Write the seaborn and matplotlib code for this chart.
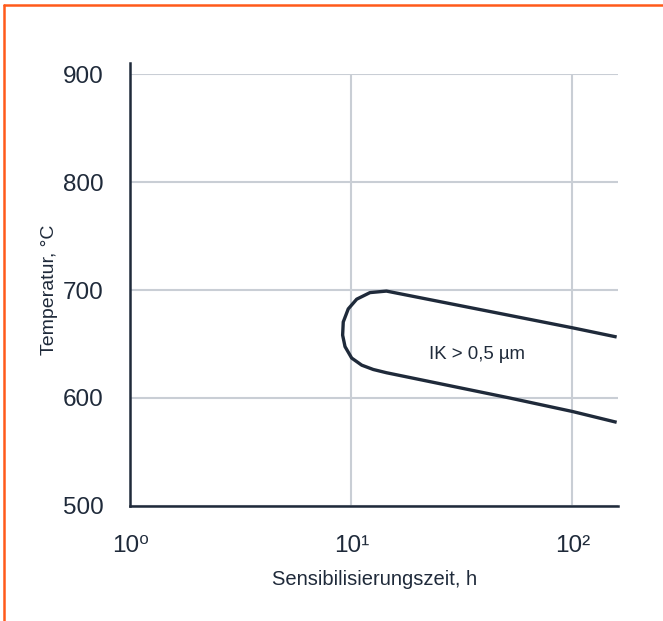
import pandas as pd
import seaborn as sns
import matplotlib.pyplot as plt
from matplotlib.lines import Line2D
from matplotlib.ticker import NullLocator

# =========================
# Data
# =========================
# C-shaped boundary: upper branch (right -> left), arc, lower branch (left -> right)
zeit_h = [158.5, 100, 14.4, 12.13, 10.56, 9.67, 9.18, 9.12, 9.35, 10.02, 11.13, 12.55,
          14.4, 52, 100, 158.5]
temperatur_c = [656.5, 665, 699, 697.6, 691.5, 682.5, 670.4, 658.2, 647.6, 637, 630.4,
                626.4, 623.4, 600, 587.5, 577.5]

x_ticks = [1, 10, 100]
x_tick_labels = ["10⁰", "10¹", "10²"]
y_ticks = [500, 600, 700, 800, 900]

label_text = "IK > 0,5 µm"
label_pos = (36.9, 640.6)

DARK = "#1f2a3a"
GRID = "#c9ced5"
ORANGE = "#ff5a1a"


def main():
    sns.set_style("white")
    plt.rcParams["font.family"] = ["Liberation Sans", "DejaVu Sans"]

    df = pd.DataFrame({"zeit": zeit_h, "temp": temperatur_c})

    fig = plt.figure(figsize=(6.63, 6.21), dpi=100)
    ax = fig.add_axes([0.1968, 0.1852, 0.7353, 0.6956])

    sns.lineplot(data=df, x="zeit", y="temp", sort=False, estimator=None,
                 color=DARK, linewidth=2.4, ax=ax, zorder=3,
                 solid_joinstyle="round", solid_capstyle="butt")

    ax.set_xscale("log")
    ax.set_xlim(1, 160.7)
    ax.set_ylim(500, 900)
    ax.set_xticks(x_ticks)
    ax.set_xticklabels(x_tick_labels)
    ax.xaxis.set_minor_locator(NullLocator())
    ax.set_yticks(y_ticks)

    ax.grid(True, color=GRID, linewidth=1.5, zorder=0)
    ax.set_axisbelow(True)

    for side in ["top", "right"]:
        ax.spines[side].set_visible(False)
    for side in ["left", "bottom"]:
        ax.spines[side].set_color(DARK)
        ax.spines[side].set_linewidth(1.8)
    # y spine runs a little above the 900 line
    ax.spines["left"].set_bounds(500, 910.5)

    ax.tick_params(axis="y", direction="out", length=11.2, width=1.5, color=GRID,
                   pad=8.4, labelsize=17.5, labelcolor=DARK)
    ax.tick_params(axis="x", direction="out", length=10, width=1.5, color=GRID,
                   pad=11, labelsize=17.5, labelcolor=DARK)

    # first y tick continues the bottom spine, first x tick sits on the y spine
    yt0 = ax.yaxis.get_major_ticks()[0]
    yt0.tick1line.set_color(DARK)
    yt0.tick1line.set_markeredgewidth(1.8)
    ax.xaxis.get_major_ticks()[0].tick1line.set_visible(False)

    ax.set_xlabel("Sensibilisierungszeit, h", fontsize=14.5, color=DARK, labelpad=9)
    ax.set_ylabel("Temperatur, °C", fontsize=14, color=DARK, labelpad=3.5)

    ax.text(label_pos[0], label_pos[1], label_text, fontsize=13.4, color=DARK,
            ha="center", va="center", zorder=4)

    # orange frame (top and left edge)
    fig.add_artist(Line2D([0.0055, 1.0], [0.992, 0.992], transform=fig.transFigure,
                          color=ORANGE, linewidth=1.8))
    fig.add_artist(Line2D([0.0055, 0.0055], [0.0, 0.992], transform=fig.transFigure,
                          color=ORANGE, linewidth=1.8))

    fig.savefig("out.png", dpi=100)
    plt.close(fig)


if __name__ == "__main__":
    main()
